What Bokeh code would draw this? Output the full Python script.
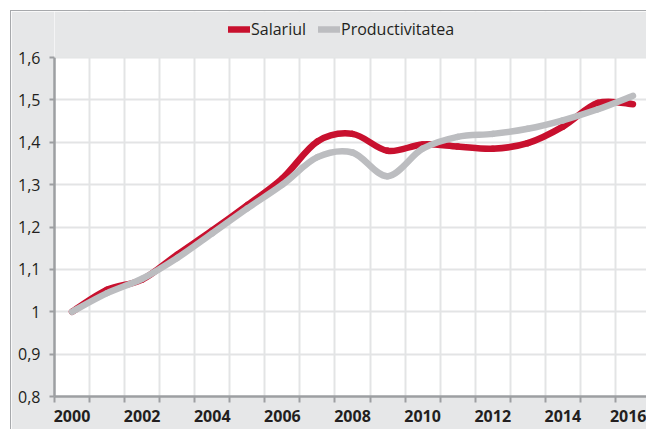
from bokeh.plotting import figure
from bokeh.models import Range1d, FixedTicker, Legend, LegendItem, ColumnDataSource, BoxAnnotation
from bokeh.embed import file_html
from bokeh.resources import INLINE

years = [2000, 2001, 2002, 2003, 2004, 2005, 2006, 2007, 2008,
         2009, 2010, 2011, 2012, 2013, 2014, 2015, 2016]
salariul = [1.000, 1.052, 1.076, 1.135, 1.192, 1.252, 1.315, 1.402, 1.420,
            1.380, 1.395, 1.390, 1.385, 1.398, 1.437, 1.493, 1.490]
productivitatea = [1.000, 1.044, 1.078, 1.127, 1.185, 1.244, 1.300, 1.365, 1.376,
                   1.320, 1.385, 1.413, 1.420, 1.432, 1.452, 1.478, 1.510]
series_names = ["Salariul", "Productivitatea"]
year_labels = [2000, 2002, 2004, 2006, 2008, 2010, 2012, 2014, 2016]
ytick_vals = [0.8, 0.9, 1.0, 1.1, 1.2, 1.3, 1.4, 1.5, 1.6]
ytick_labels = ["0,8", "0,9", "1", "1,1", "1,2", "1,3", "1,4", "1,5", "1,6"]

RED = "#c8102e"
GREY = "#bcbdc0"
PANEL = "#e6e7e8"
AXIS = "#9d9fa2"
GRID = "#e3e4e5"
FONT = "Open Sans"

PX_PER_YEAR = 35.0
PX_PER_UNIT = 422.5
HEADER_PX = 46          # grey band above the plotting area
W, H = 636, 419
BL, BR, BT, BB = 43, 0, 0, 34
frame_w = W - 1 - BL - BR

y0, y1 = ytick_vals[0], ytick_vals[-1]
p = figure(width=W, height=H, output_backend="svg", toolbar_location=None,
           x_range=Range1d(years[0] - 0.5, years[0] - 0.5 + frame_w / PX_PER_YEAR),
           y_range=Range1d(y0, y1 + HEADER_PX / PX_PER_UNIT),
           min_border_left=BL, min_border_right=BR, min_border_top=BT, min_border_bottom=BB,
           background_fill_color="white", border_fill_color=PANEL)
p.styles = {"margin-left": "10px", "margin-top": "10px",
            "border-left": "1px solid #a7a9ac", "border-top": "1px solid #a7a9ac"}
p.outline_line_color = None


def bezier_source(xs, ys):
    n = len(xs)
    d = dict(x0=[], y0=[], x1=[], y1=[], cx0=[], cy0=[], cx1=[], cy1=[])
    for i in range(n - 1):
        xm, ym = (xs[i - 1], ys[i - 1]) if i > 0 else (xs[i], ys[i])
        xp, yp = (xs[i + 2], ys[i + 2]) if i + 2 < n else (xs[i + 1], ys[i + 1])
        d["x0"].append(xs[i]); d["y0"].append(ys[i])
        d["x1"].append(xs[i + 1]); d["y1"].append(ys[i + 1])
        d["cx0"].append(xs[i] + (xs[i + 1] - xm) / 6.0)
        d["cy0"].append(ys[i] + (ys[i + 1] - ym) / 6.0)
        d["cx1"].append(xs[i + 1] - (xp - xs[i]) / 6.0)
        d["cy1"].append(ys[i + 1] - (yp - ys[i]) / 6.0)
    return ColumnDataSource(d)


renderers = []
for vals, col in [(salariul, RED), (productivitatea, GREY)]:
    r = p.bezier(x0="x0", y0="y0", x1="x1", y1="y1", cx0="cx0", cy0="cy0", cx1="cx1", cy1="cy1",
                 source=bezier_source(years, vals), line_color=col, line_width=6.5, line_cap="round")
    renderers.append(r)

# grey header band above the plotting area
p.add_layout(BoxAnnotation(bottom=y1, fill_color=PANEL, fill_alpha=1.0, line_color=None))

legend = Legend(items=[LegendItem(label=series_names[0], renderers=[renderers[0]]),
                       LegendItem(label=series_names[1], renderers=[renderers[1]])],
                orientation="horizontal", location=(174, 356),
                background_fill_alpha=0, border_line_color=None,
                label_text_font=FONT, label_text_font_size="16px", label_text_color="#231f20",
                glyph_width=22, glyph_height=14, label_standoff=1, spacing=12,
                padding=0, margin=0)
p.add_layout(legend, "center")

# x axis
edges = [y - 0.5 for y in years] + [years[-1] + 0.5]
p.xaxis.ticker = FixedTicker(ticks=year_labels, minor_ticks=edges)
p.xgrid.ticker = FixedTicker(ticks=edges)
p.xaxis.major_tick_line_color = None
p.xaxis.major_tick_out = 6
p.xaxis.minor_tick_out = 6
p.xaxis.minor_tick_in = 0
p.xaxis.minor_tick_line_color = AXIS
p.xaxis.minor_tick_line_width = 2
p.xaxis.major_label_standoff = 7
p.xaxis.major_label_text_font = FONT
p.xaxis.major_label_text_font_style = "bold"
p.xaxis.major_label_text_font_size = "16px"
p.xaxis.major_label_text_color = "#231f20"

# y axis
p.yaxis.ticker = FixedTicker(ticks=ytick_vals)
p.yaxis.bounds = (y0, y1)
p.yaxis.major_label_overrides = {v: l for v, l in zip(ytick_vals, ytick_labels)}
p.yaxis.minor_tick_line_color = None
p.yaxis.major_tick_out = 5
p.yaxis.major_tick_in = 0
p.yaxis.major_tick_line_color = AXIS
p.yaxis.major_tick_line_width = 2
p.yaxis.major_label_standoff = 9
p.yaxis.major_label_text_font = FONT
p.yaxis.major_label_text_font_size = "16px"
p.yaxis.major_label_text_color = "#231f20"

for ax in (p.xaxis, p.yaxis):
    ax.axis_line_color = AXIS
    ax.axis_line_width = 2.5

p.xgrid.grid_line_color = GRID
p.xgrid.grid_line_width = 2
p.ygrid.grid_line_color = GRID
p.ygrid.grid_line_width = 2

open("out.html", "w").write(file_html(p, INLINE))
